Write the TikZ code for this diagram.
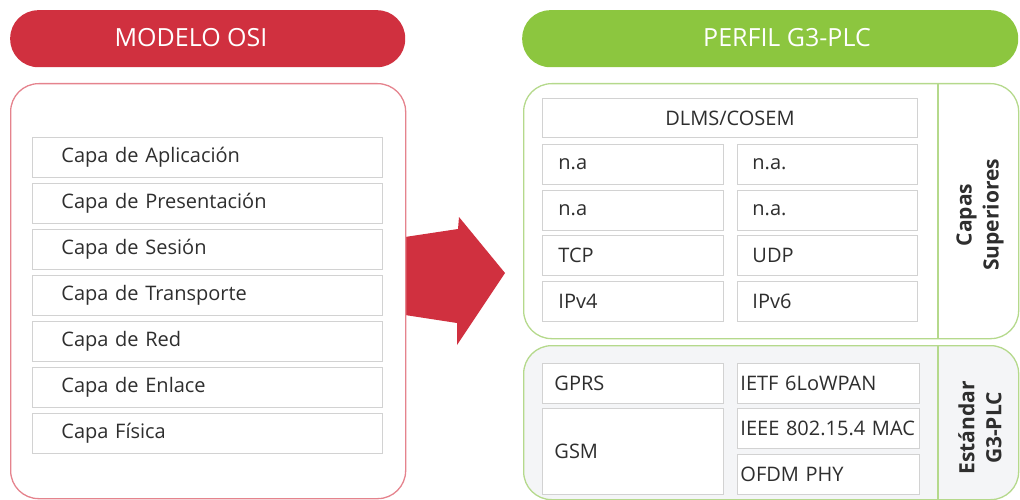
\documentclass[tikz,border=0pt]{standalone}
\usepackage{fontspec}
\setmainfont{Open Sans}
\definecolor{osired}{HTML}{D0303F}
\definecolor{osiedge}{HTML}{E5838D}
\definecolor{plcgreen}{HTML}{8CC63F}
\definecolor{plcedge}{HTML}{B5D98C}
\definecolor{cellgray}{HTML}{D2D2D2}
\definecolor{txt}{HTML}{2E2E2E}
\definecolor{lowfill}{HTML}{F4F5F7}
\newcommand{\cellfont}{\fontsize{20}{23}\selectfont}
\newcommand{\headfont}{\fontsize{25}{29}\selectfont}
\newcommand{\sidefont}{\fontsize{21}{27}\selectfont\bfseries}
\tikzset{
  pill/.style={fill=#1, rounded corners=28pt, anchor=north west, minimum height=57pt, inner sep=0pt},
  headtxt/.style={text=white, font=\headfont, inner sep=0pt},
  panel/.style={draw=#1, line width=1.3pt, rounded corners=28pt, anchor=north west, inner sep=0pt},
  cell/.style n args={4}{draw=cellgray, line width=0.9pt, fill=white, anchor=north west,
    minimum width=#1, minimum height=#2, inner ysep=0pt, inner xsep=#3, text width=#4,
    align=left, font=\cellfont, text=txt},
  sidetxt/.style={rotate=90, align=center, font=\sidefont, text=txt, inner sep=0pt}
}
\begin{document}
\begin{tikzpicture}[x=1pt,y=-1pt]
\useasboundingbox (0,0) rectangle (1020,500);

% headers
\node[pill=osired, minimum width=395pt] (hosi) at (10,10) {};
\node[headtxt] (tosi) at (191,38) {MODELO OSI};
\node[pill=plcgreen, minimum width=496pt] (hplc) at (522,10) {};
\node[headtxt] (tplc) at (787,38) {PERFIL G3-PLC};

% conversion arrow
\fill[osired] (405,237) -- (458,229) -- (459,217) -- (505,273) -- (457,345)
  -- (457,323) -- (405,315) -- cycle;

% OSI panel and its seven layers
\node[panel=osiedge, minimum width=395pt, minimum height=415pt] (posi) at (10,83) {};
\node[cell={350pt}{40pt}{29pt}{292pt}] (l1) at (32,137) {Capa de Aplicación};
\node[cell={350pt}{40pt}{29pt}{292pt}] (l2) at (32,183) {Capa de Presentación};
\node[cell={350pt}{40pt}{29pt}{292pt}] (l3) at (32,229) {Capa de Sesión};
\node[cell={350pt}{40pt}{29pt}{292pt}] (l4) at (32,275) {Capa de Transporte};
\node[cell={350pt}{40pt}{29pt}{292pt}] (l5) at (32,321) {Capa de Red};
\node[cell={350pt}{40pt}{29pt}{292pt}] (l6) at (32,367) {Capa de Enlace};
\node[cell={350pt}{40pt}{29pt}{292pt}] (l7) at (32,413) {Capa Física};

% G3-PLC upper layers
\node[panel=plcedge, minimum width=495pt, minimum height=255pt] (pup) at (523,83) {};
\draw[plcedge, line width=1.3pt] (938,83) -- (938,338);
\node[cell={375pt}{39pt}{0pt}{375pt}, align=center] (dlms) at (542,98) {DLMS/COSEM};
\node[cell={181pt}{40pt}{16pt}{149pt}] (a1) at (542,144) {n.a};
\node[cell={180pt}{40pt}{15pt}{150pt}] (b1) at (737,144) {n.a.};
\node[cell={181pt}{40pt}{16pt}{149pt}] (a2) at (542,189.5) {n.a};
\node[cell={180pt}{40pt}{15pt}{150pt}] (b2) at (737,189.5) {n.a.};
\node[cell={181pt}{40pt}{16pt}{149pt}] (a3) at (542,235) {TCP};
\node[cell={180pt}{40pt}{15pt}{150pt}] (b3) at (737,235) {UDP};
\node[cell={181pt}{40pt}{16pt}{149pt}] (a4) at (542,281) {IPv4};
\node[cell={180pt}{40pt}{15pt}{150pt}] (b4) at (737,281) {IPv6};
\node[sidetxt] (sup) at (980,215) {Capas\\Superiores};

% G3-PLC standard
\node[panel=plcedge, fill=lowfill, minimum width=495pt, minimum height=154pt] (plow) at (523,345) {};
\draw[plcedge, line width=1.3pt] (938,345) -- (938,499);
\node[cell={181pt}{40pt}{12pt}{157pt}] (gprs) at (542,363) {GPRS};
\node[cell={181pt}{86pt}{12pt}{157pt}] (gsm) at (542,408) {GSM};
\node[cell={180pt}{40pt}{3pt}{176pt}] (ietf) at (737,363) {IETF 6LoWPAN};
\node[cell={180pt}{40pt}{3pt}{176pt}] (ieee) at (737,408) {IEEE 802.15.4 MAC};
\node[cell={180pt}{40pt}{3pt}{176pt}] (ofdm) at (737,454) {OFDM PHY};
\node[sidetxt] (std) at (980,428) {Estándar\\G3-PLC};
\end{tikzpicture}
\end{document}
